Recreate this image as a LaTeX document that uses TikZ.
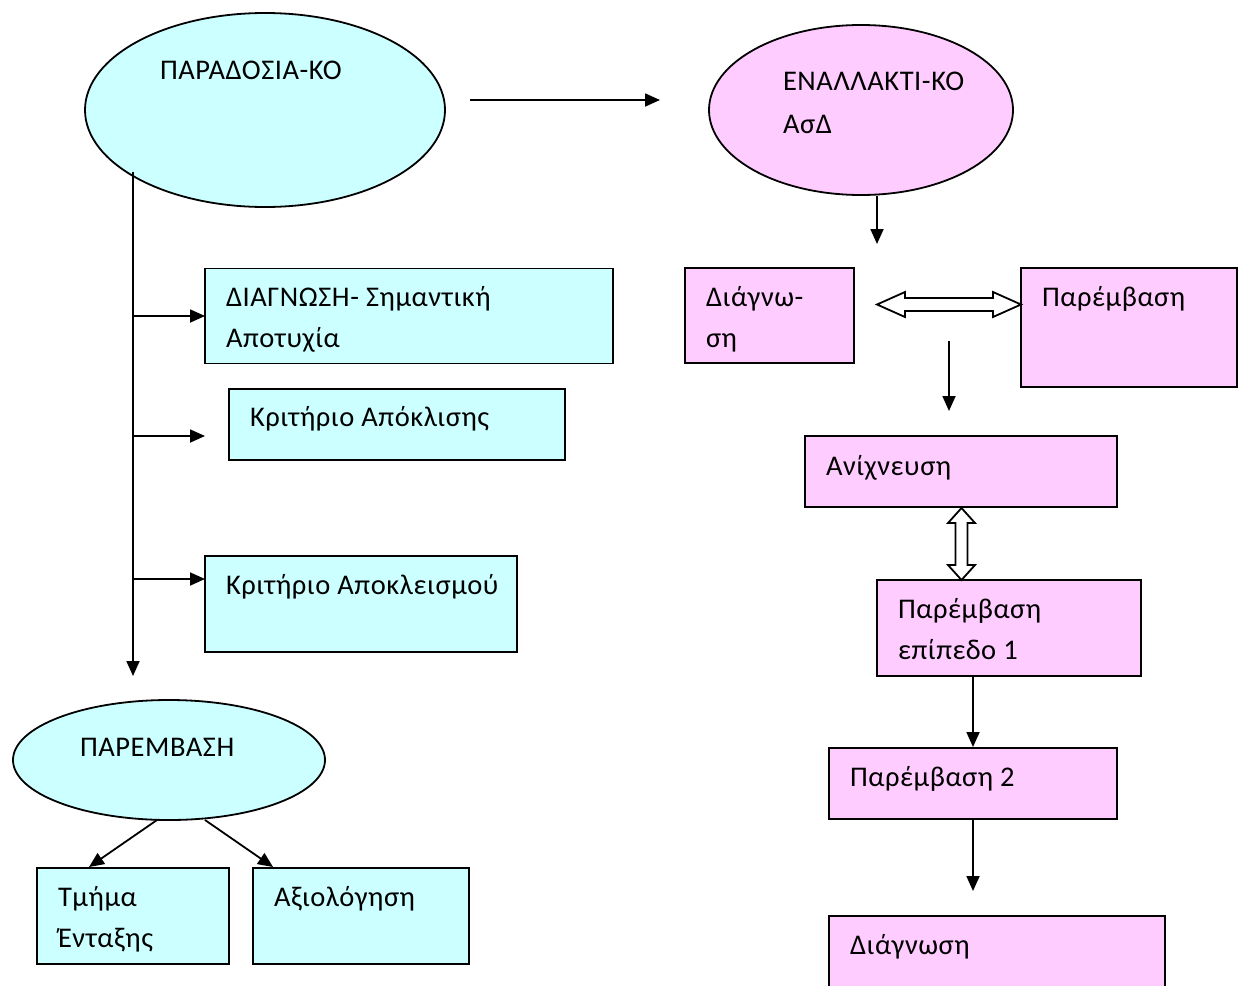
\documentclass[tikz,border=0pt]{standalone}
\usepackage{fontspec}
\setmainfont[LetterSpace=2]{Carlito}
\usetikzlibrary{arrows.meta,shapes.geometric,calc}
\definecolor{cy}{HTML}{CCFFFF}
\definecolor{pk}{HTML}{FFCCFF}
\begin{document}
\begin{tikzpicture}[x=1pt,y=-1pt,
  every node/.style={inner sep=0pt,outer sep=0pt},
  txt/.style={anchor=base west,font=\fontsize{28.5}{41}\selectfont,text=black},
  cbox/.style={draw=black,line width=1.8pt,fill=cy,rectangle},
  pbox/.style={draw=black,line width=1.8pt,fill=pk,rectangle},
  cell/.style={draw=black,line width=1.8pt,fill=cy,ellipse},
  pell/.style={draw=black,line width=1.8pt,fill=pk,ellipse},
  con/.style={draw=black,line width=1.8pt,-{Triangle[length=15pt,width=13pt]}},
  ln/.style={draw=black,line width=1.8pt},
  hollow/.style={draw=black,line width=1.8pt,fill=white,line join=miter}]
\useasboundingbox (0,0) rectangle (1241,985);
% ellipses
\node[cell,minimum width=360pt,minimum height=194pt] (e1) at (265,110) {};
\node[pell,minimum width=304pt,minimum height=170pt] (e2) at (861,110) {};
\node[cell,minimum width=312pt,minimum height=120pt] (e3) at (169,760) {};
% left boxes
\node[cbox,minimum width=408pt,minimum height=95pt] (b1) at (409,316) {};
\node[cbox,minimum width=336pt,minimum height=71pt] (b2) at (397,424.5) {};
\node[cbox,minimum width=312pt,minimum height=96pt] (b3) at (361,604) {};
\node[cbox,minimum width=192pt,minimum height=96pt] (b4) at (133,916) {};
\node[cbox,minimum width=216pt,minimum height=96pt] (b5) at (361,916) {};
% right boxes
\node[pbox,minimum width=169pt,minimum height=95pt] (r1) at (769.5,315.5) {};
\node[pbox,minimum width=216pt,minimum height=119pt] (r2) at (1129,327.5) {};
\node[pbox,minimum width=312pt,minimum height=71pt] (r3) at (961,471.5) {};
\node[pbox,minimum width=264pt,minimum height=96pt] (r4) at (1009,628) {};
\node[pbox,minimum width=288pt,minimum height=71pt] (r5) at (973,783.5) {};
\node[pbox,minimum width=336pt,minimum height=96pt] (r6) at (997,964) {};
% texts
\node[txt] (t1) at (160,79) {ΠΑΡΑΔΟΣΙΑ-ΚΟ};
\node[txt] (t2) at (783,90) {ΕΝΑΛΛΑΚΤΙ-ΚΟ};
\node[txt] (t3) at (783,133) {ΑσΔ};
\node[txt] (t4) at (80,756) {ΠΑΡΕΜΒΑΣΗ};
\node[txt] (t5) at (226,306) {ΔΙΑΓΝΩΣΗ- Σημαντική};
\node[txt] (t6) at (226,347) {Αποτυχία};
\node[txt] (t7) at (250,426) {Κριτήριο Απόκλισης};
\node[txt] (t8) at (226,594) {Κριτήριο Αποκλεισμού};
\node[txt] (t9) at (58,906) {Τμήμα};
\node[txt] (t10) at (58,947) {Ένταξης};
\node[txt] (t11) at (274,906) {Αξιολόγηση};
\node[txt] (t12) at (706,306) {Διάγνω-};
\node[txt] (t13) at (706,347) {ση};
\node[txt] (t14) at (1042,306) {Παρέμβαση};
\node[txt] (t15) at (826,475) {Ανίχνευση};
\node[txt] (t16) at (898,618) {Παρέμβαση};
\node[txt] (t17) at (898,659) {επίπεδο 1};
\node[txt] (t18) at (850,786) {Παρέμβαση 2};
\node[txt] (t19) at (850,954) {Διάγνωση};
% coordinates
\coordinate (a1s) at (470,100); \coordinate (a1e) at (660,100);
\coordinate (vtop) at (133,172); \coordinate (vend) at (133,676);
\coordinate (h1s) at (133,316); \coordinate (h1e) at (205,316);
\coordinate (h2s) at (133,436); \coordinate (h2e) at (205,436);
\coordinate (h3s) at (133,579); \coordinate (h3e) at (205,579);
\coordinate (d1s) at (157,820); \coordinate (d1e) at (89,867);
\coordinate (d2s) at (205,820); \coordinate (d2e) at (273,867);
\coordinate (v1s) at (877,196); \coordinate (v1e) at (877,244);
\coordinate (v2s) at (949,341); \coordinate (v2e) at (949,411);
\coordinate (v3s) at (973,676); \coordinate (v3e) at (973,747);
\coordinate (v4s) at (973,819); \coordinate (v4e) at (973,891);
% connectors
\draw[con] (a1s) -- (a1e);
\draw[con] (vtop) -- (vend);
\draw[con] (h1s) -- (h1e);
\draw[con] (h2s) -- (h2e);
\draw[con] (h3s) -- (h3e);
\draw[con] (d1s) -- (d1e);
\draw[con] (d2s) -- (d2e);
\draw[con] (v1s) -- (v1e);
\draw[con] (v2s) -- (v2e);
\draw[con] (v3s) -- (v3e);
\draw[con] (v4s) -- (v4e);
% hollow double arrows
\draw[hollow] (877,304.5) -- (905,292) -- (905,298) -- (993,298) -- (993,292) -- (1021,304.5)
  -- (993,317) -- (993,311) -- (905,311) -- (905,317) -- cycle;
\draw[hollow] (961.5,508) -- (975,523) -- (967.5,523) -- (967.5,565) -- (975,565) -- (961.5,580)
  -- (948,565) -- (955.5,565) -- (955.5,523) -- (948,523) -- cycle;
\end{tikzpicture}
\end{document}
